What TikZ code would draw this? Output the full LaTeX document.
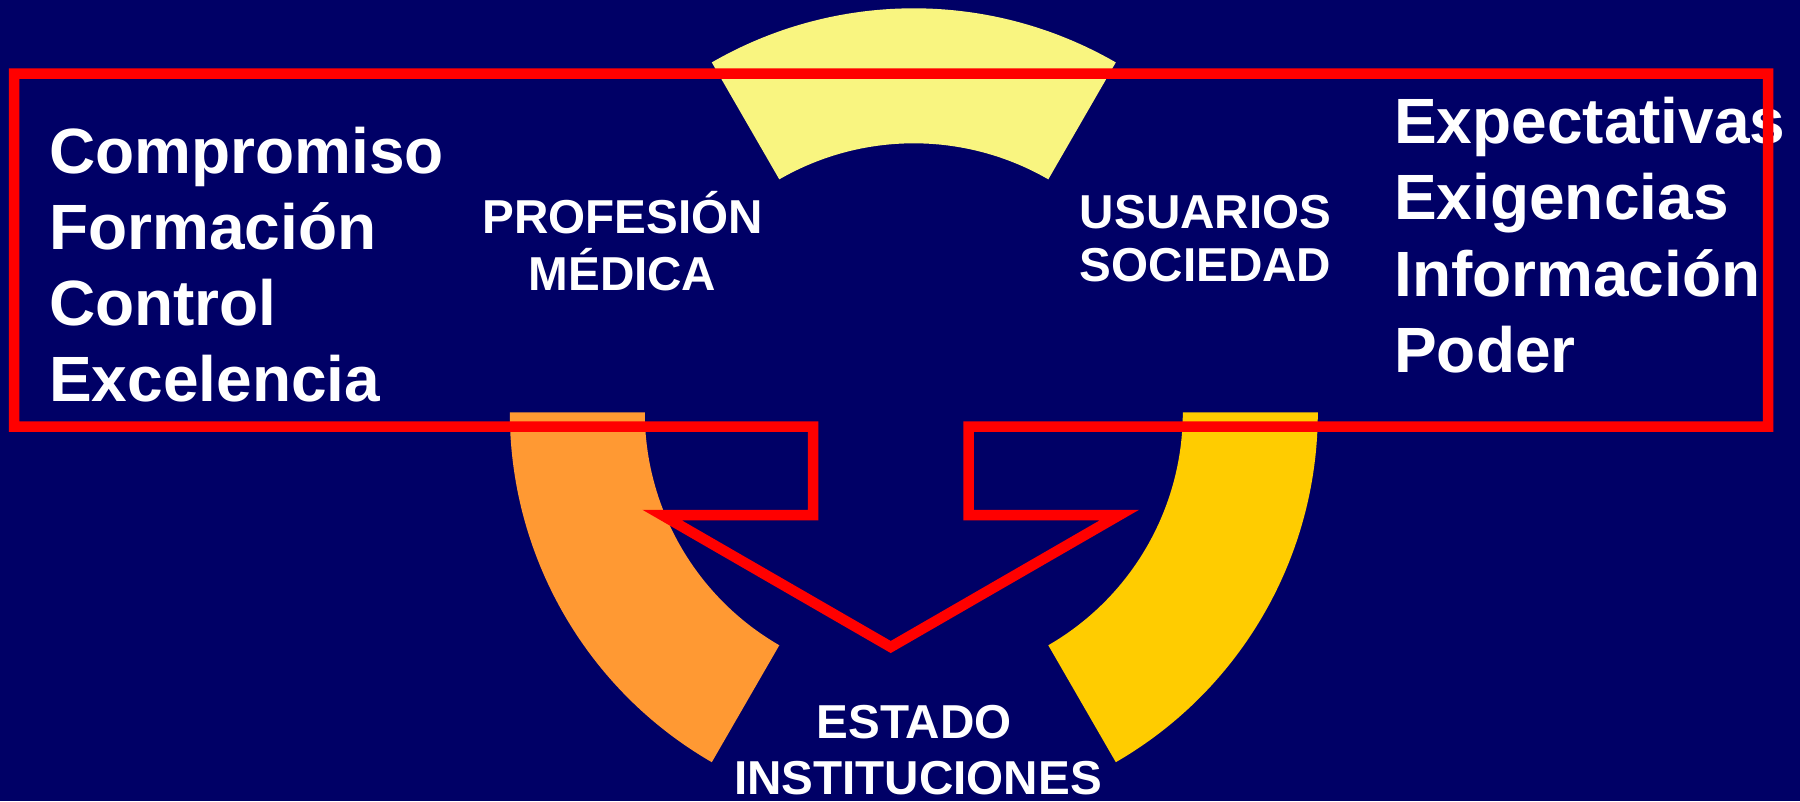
\documentclass[tikz,border=0pt]{standalone}
\usepackage{fontspec}
\setmainfont{Liberation Sans}
\usetikzlibrary{positioning}
\definecolor{fondo}{RGB}{0,0,102}
\definecolor{amarillo}{RGB}{249,245,128}
\definecolor{naranja}{RGB}{255,153,51}
\definecolor{oro}{RGB}{255,204,0}
\tikzset{
  lista/.style = {anchor=base west, inner sep=0pt, text=white,
    font=\fontsize{64}{76}\selectfont\bfseries},
  etq/.style = {anchor=base, inner sep=0pt, text=white,
    font=\fontsize{47.6}{56}\selectfont\bfseries},
  borde/.style = {draw=red, line width=10.5pt, miter limit=10}
}
\begin{document}
\begin{tikzpicture}[x=1pt,y=1pt]
\useasboundingbox (0,0) rectangle (1800,-801);
\fill[fondo] (0,0) rectangle (1800,-801);
\coordinate (centro) at (913.8,-412.3);
% the three ring pieces
\foreach \a/\b/\c in {60/120/amarillo, 180/240/naranja, 300/360/oro}
  \fill[\c, shift={(centro)}] (\a:404) arc[start angle=\a, end angle=\b, radius=404]
    -- (\b:269) arc[start angle=\b, end angle=\a, radius=269] -- cycle;
% lists
\foreach \w [count=\i] in {Compromiso,Formación,Control,Excelencia}
  \node[lista] (izq\i) at (49,{-173-76.3*(\i-1)}) {\w};
\foreach \w [count=\i] in {Expectativas,Exigencias,Información,Poder}
  \node[lista] (der\i) at (1394,{-143.5-76.4*(\i-1)}) {\w};
% labels
\node[etq] (prof) at (622.5,-233.3) {PROFESIÓN};
\node[etq] (med) at ([yshift=-56.7pt]prof.base) {MÉDICA};
\node[etq] (usu) at (1205.5,-228.3) {USUARIOS};
\node[etq] (soc) at ([yshift=-53.4pt]usu.base) {SOCIEDAD};
\node[etq] (est) at (914,-738.3) {ESTADO};
\node[etq] (inst) at (918,-794) {INSTITUCIONES};
% red frame with arrow
\draw[borde] (14,-73.6) -- (1768,-73.6) -- (1768,-426.5) -- (968.5,-426.5)
  -- (968.5,-515) -- (1119.5,-515) -- (890.75,-647) -- (662,-515)
  -- (813,-515) -- (813,-426.5) -- (14,-426.5) -- cycle;
\end{tikzpicture}
\end{document}
